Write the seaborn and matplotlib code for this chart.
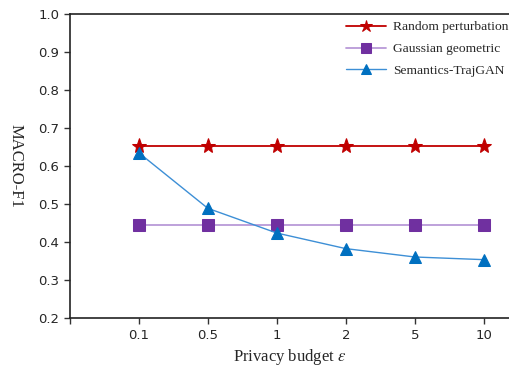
import pandas as pd
import matplotlib.pyplot as plt
import seaborn as sns

# Data
eps_labels = ['0.1', '0.5', '1', '2', '5', '10']
random_pert = [0.652, 0.652, 0.652, 0.652, 0.652, 0.652]
gauss_geo = [0.445, 0.445, 0.445, 0.445, 0.445, 0.445]
sem_trajgan = [0.635, 0.489, 0.424, 0.383, 0.361, 0.354]

sns.set_style('ticks')
plt.rcParams['font.family'] = ['DejaVu Sans']
plt.rcParams['mathtext.fontset'] = 'stix'

pos = list(range(1, len(eps_labels) + 1))
df = pd.DataFrame({
    'pos': pos * 3,
    'value': random_pert + gauss_geo + sem_trajgan,
    'method': ['Random perturbation'] * 6 + ['Gaussian geometric'] * 6 + ['Semantics-TrajGAN'] * 6,
})

fig = plt.figure(figsize=(5.1, 3.7), dpi=100)
ax = fig.add_axes([0.137, 0.14, 0.863, 0.822])

styles = {
    'Random perturbation': dict(color='#C00000', marker='*', markersize=11, mfc='#C00000', mec='#C00000', lw=1.3),
    'Gaussian geometric': dict(color='#B99AD8', marker='s', markersize=8, mfc='#7030A0', mec='#7030A0', lw=1.3),
    'Semantics-TrajGAN': dict(color='#3D8FD6', marker='^', markersize=8.5, mfc='#0070C0', mec='#0070C0', lw=1.0),
}
for name, st in styles.items():
    sub = df[df['method'] == name]
    sns.lineplot(data=sub, x='pos', y='value', ax=ax, label=name,
                 color=st['color'], marker=st['marker'], markersize=st['markersize'],
                 markerfacecolor=st['mfc'], markeredgecolor=st['mec'], linewidth=st['lw'])

ax.set_xlim(0, 6.38)
ax.set_ylim(0.2, 1.0)
ax.set_xticks([0] + pos)
ax.set_xticklabels([''] + eps_labels, fontsize=9.5)
ax.set_yticks([0.2, 0.3, 0.4, 0.5, 0.6, 0.7, 0.8, 0.9, 1.0])
ax.set_yticklabels(['0.2', '0.3', '0.4', '0.5', '0.6', '0.7', '0.8', '0.9', '1.0'], fontsize=9.5)
ax.tick_params(direction='out', length=4, width=1, color='#333333')

ax.set_xlabel('Privacy budget $\\varepsilon$', fontsize=12, family='Liberation Serif', labelpad=4)
ax.set_ylabel('MACRO-F1', fontsize=12, family='Liberation Serif', rotation=270, labelpad=22)

for side in ['left', 'bottom', 'top']:
    ax.spines[side].set_color('#222222')
    ax.spines[side].set_linewidth(1.2)
ax.spines['right'].set_visible(False)

leg = ax.legend(loc='upper left', bbox_to_anchor=(0.615, 0.995), frameon=False,
                prop={'family': 'Liberation Serif', 'size': 9.7}, handlelength=3.0,
                handletextpad=0.5, labelspacing=0.7, borderaxespad=0, markerscale=0.85)

plt.savefig('out.png', dpi=100)
plt.close()
